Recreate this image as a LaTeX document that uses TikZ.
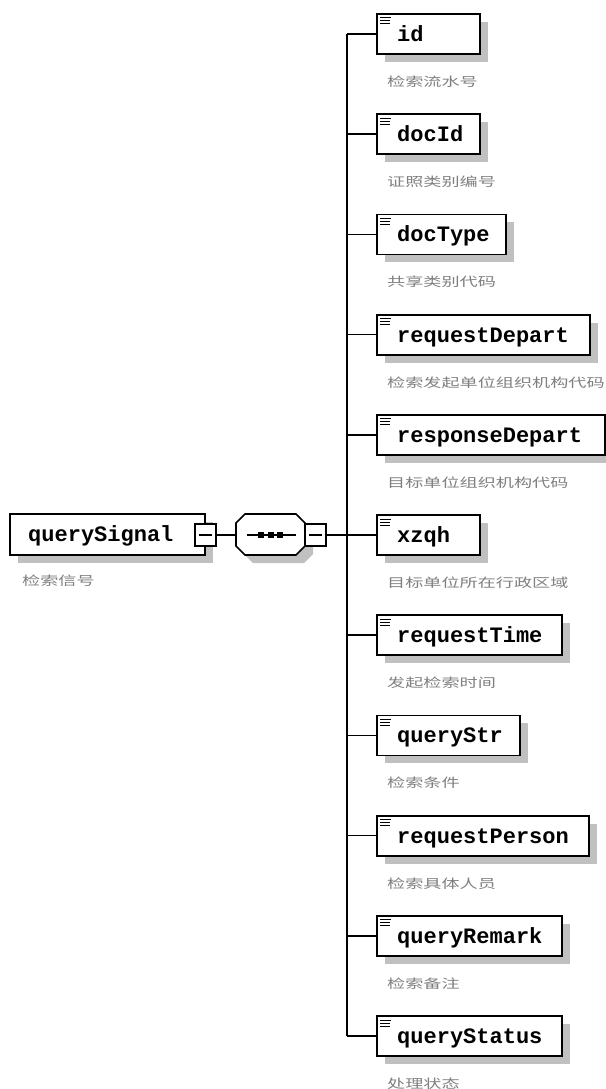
\documentclass[tikz,border=0pt]{standalone}
\usepackage{fontspec}
\usepackage{graphicx}
\usetikzlibrary{shadows}
\newfontfamily\monob{Liberation Mono}
\newfontfamily\cjk{Noto Sans CJK SC}
\definecolor{shgray}{RGB}{192,192,192}
\definecolor{lblgray}{RGB}{128,128,128}
\tikzset{
  conn/.style={line width=1.6pt},
  elem/.style={draw, line width=1.8pt, fill=white, inner sep=0pt, outer sep=0pt,
    minimum height=40pt, anchor=north west,
    general shadow={fill=shgray, shadow xshift=8pt, shadow yshift=-8pt}},
  nametext/.style={inner sep=0pt, anchor=base west, font=\monob\bfseries\fontsize{22}{24}\selectfont},
  lbl/.style={inner sep=0pt, anchor=base west, text=lblgray, font=\cjk\fontsize{12.5}{14}\selectfont},
  minusbox/.style={draw, line width=1.3pt, fill=white, inner sep=0pt, outer sep=0pt,
    minimum width=21pt, minimum height=22pt,
    path picture={\draw[line width=1.3pt] ([xshift=4pt]path picture bounding box.west) -- ([xshift=-4pt]path picture bounding box.east);}},
  icon/.style={line width=1pt}
}
\newcommand\widen[1]{\scalebox{1.45}[1]{#1}}
\begin{document}
\begin{tikzpicture}[x=1pt,y=-1pt]
\useasboundingbox[fill=white] (0,0) rectangle (605,1089);
\coordinate (bx) at (347,0);
% child elements
\foreach \i/\nm/\w/\lb in {
  0/id/103/检索流水号,
  1/docId/103/证照类别编号,
  2/docType/129/共享类别代码,
  3/requestDepart/213/检索发起单位组织机构代码,
  4/responseDepart/228/目标单位组织机构代码,
  5/xzqh/103/目标单位所在行政区域,
  6/requestTime/185/发起检索时间,
  7/queryStr/143/检索条件,
  8/requestPerson/212/检索具体人员,
  9/queryRemark/185/检索备注,
  10/queryStatus/185/处理状态}{
  \pgfmathsetmacro\tp{14+100.2*\i}
  \node[elem, minimum width=\w pt] (e\i) at (377,\tp) {};
  \draw[icon] ([shift={(3,4)}]e\i.north west) -- ++(11,0);
  \draw[icon] ([shift={(3,7)}]e\i.north west) -- ++(10,0);
  \draw[icon] ([shift={(3,10)}]e\i.north west) -- ++(10,0);
  \node[nametext] (t\i) at ([shift={(20,27.5)}]e\i.north west) {\nm};
  \node[lbl] (l\i) at ([shift={(10,72.5)}]e\i.north west) {\widen{\lb}};
  \draw[conn] (e\i.west) -- (e\i.west -| bx);
}
\draw[conn] (e0.west -| bx) -- (e10.west -| bx);
% root element
\node[elem, minimum width=195pt, minimum height=41pt] (q) at (10,514) {};
\node[nametext] (qt) at (28,541.5) {querySignal};
\node[lbl] (ql) at (22,585.5) {\widen{检索信号}};
\node[minusbox] (m1) at (205.5,535) {};
% sequence compositor
\node[minimum width=69pt, minimum height=41pt, inner sep=0pt, outer sep=0pt] (seq) at (270.5,534.5) {};
\fill[shgray, transform canvas={xshift=8pt,yshift=-8pt}]
  ([shift={(9,0)}]seq.north west) -- ([shift={(-9,0)}]seq.north east) -- ([shift={(0,9)}]seq.north east)
  -- ([shift={(0,-9)}]seq.south east) -- ([shift={(-9,0)}]seq.south east) -- ([shift={(9,0)}]seq.south west)
  -- ([shift={(0,-9)}]seq.south west) -- ([shift={(0,9)}]seq.north west) -- cycle;
\draw[line width=1.6pt, fill=white]
  ([shift={(9,0)}]seq.north west) -- ([shift={(-9,0)}]seq.north east) -- ([shift={(0,9)}]seq.north east)
  -- ([shift={(0,-9)}]seq.south east) -- ([shift={(-9,0)}]seq.south east) -- ([shift={(9,0)}]seq.south west)
  -- ([shift={(0,-9)}]seq.south west) -- ([shift={(0,9)}]seq.north west) -- cycle;
\draw[conn] ([shift={(11,0.5)}]seq.west) -- ([shift={(-9,0.5)}]seq.east);
\foreach \dx in {-9.5,0.5,9.5}{
  \fill ([shift={(\dx-3,-2.5)}]seq.center) rectangle +(6,6);
}
\node[minusbox] (m2) at (315.5,535) {};
\draw[conn] (m1.east) -- (seq.west |- m1.east);
\draw[conn] (m2.east) -- (e5.west);
\end{tikzpicture}
\end{document}
